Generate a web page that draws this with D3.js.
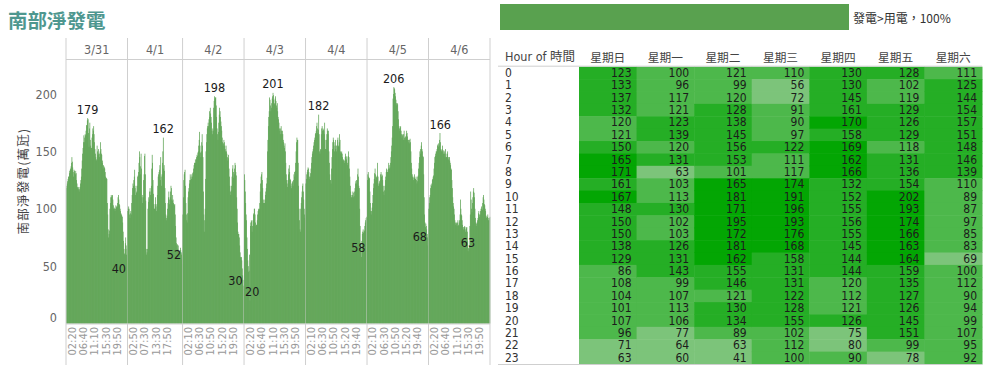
<!DOCTYPE html>
<html><head><meta charset="utf-8">
<script src="https://cdn.jsdelivr.net/npm/d3@7"></script>
<style>
body{margin:0;background:#fff;}
svg{display:block;}
text{font-family:"DejaVu Sans Condensed","DejaVu Sans","Noto Sans CJK TC",sans-serif;font-stretch:condensed;}
.cjk{font-family:"Noto Sans CJK TC",sans-serif;font-stretch:normal;}
</style></head><body>
<svg id="c" width="1004" height="376"></svg>
<script>
// ---------------- DATA ----------------
const days = ["3/31","4/1","4/2","4/3","4/4","4/5","4/6"];
// 10-minute net generation (萬瓩), 00:00 .. 23:50, null = no record
const gen0331 = [118,120,122,124,126,128, 128,131,133,134,135,137, 140,145,141,136,132,128, 134,133,131,130,133,131,
 125,122,119,118,117,119, 115,117,119,122,125,128, 135,142,148,153,158,164, 158,162,165,164,168,173,
 172,177,179,178,166,154, 170,175,160,155,153,153, 162,165,170,168,172,165, 158,152,148,145,142,143,
 155,150,147,152,148,148, 145,150,158,152,148,147, 140,142,135,138,137,136, 135,132,128,126,127,126,
 105,95,82,75,78,81, 100,105,110,112,110,111, 112,108,103,100,101,100, 98,100,103,102,101,102,
 105,110,112,108,104,103, 100,98,96,95,94,93, 88,80,72,65,61,60, 70,75,68,60,65,40];
const gen0401 = [null,null,null,98,100,102, 100,95,92,96,98,95, 105,112,118,122,120,125, 128,134,118,112,120,114,
 115,120,null,null,128,129, 132,140,150,145,130,137, 148,135,110,105,112,110, 125,130,146,148,130,107,
 65,60,62,65,null,null, null,null,null,null,100,106, 110,108,115,118,112,115, 120,135,147,140,125,113,
 null,null,null,null,104,100, 100,104,110,102,98,104, 112,120,128,130,132,134, 138,125,145,128,120,130,
 140,150,162,135,138,133, 118,105,95,90,92,94, 100,105,110,115,108,104, 110,115,120,118,108,107,
 112,108,105,104,103,104, 95,85,75,70,68,69, 65,68,62,64,63,62, 66,64,62,60,56,52];
const gen0402 = [95,110,125,130,132,134, 120,105,95,90,88,96, 110,115,118,122,125,130, 125,128,126,130,128,131,
 132,135,138,140,140,143, 140,143,145,147,146,149, 150,155,160,167,155,149, 145,150,158,165,155,145,
 115,95,80,90,100,126, 150,158,165,170,172,175, 172,178,185,180,188,183, 180,175,168,165,170,168,
 188,194,198,196,197,197, 190,180,170,165,160,167, 175,182,188,185,180,176, 172,168,162,158,155,157,
 160,158,155,152,150,155, 150,148,145,142,144,147, 135,128,120,115,112,116, 120,128,135,138,132,127,
 130,135,140,138,132,129, 110,100,88,80,78,78, 75,68,62,58,57,58, 55,48,42,38,33,30];
const gen0403 = [130,125,115,105,95,90, 75,65,55,50,45,46, 60,20,85,88,90,89, 80,85,90,95,96,100,
 100,95,88,85,86,86, 90,95,98,100,99,100, 105,115,122,128,130,132, 125,118,108,105,105,105,
 108,112,115,118,122,127, 150,160,172,180,185,197, 195,190,185,188,192,196, 198,201,199,195,192,191,
 196,198,194,190,188,192, 185,180,178,175,170,168, 165,170,172,168,165,168, 165,160,158,155,153,157,
 150,140,130,125,122,119, 125,130,135,138,132,126, 125,120,118,122,124,123, 120,125,130,132,128,133,
 140,150,158,162,160,160, 140,120,100,90,82,80, 100,105,110,115,120,122, 115,108,100,95,92,90];
const gen0404 = [122,126,130,132,134,136, 135,132,128,126,128,131, 135,140,145,148,150,152, 155,158,160,162,165,166,
 168,172,175,170,166,169, 182,165,150,148,152,151, 165,170,172,168,170,169, 168,165,175,160,152,152,
 160,165,170,168,165,168, 150,140,130,125,125,122, 135,145,152,158,162,160, 158,150,155,160,152,155,
 150,155,160,162,155,154, 158,165,160,150,148,149, 150,148,145,142,143,142, 140,142,145,148,146,143,
 145,140,138,146,150,145, 135,128,120,115,112,110, 110,112,115,114,110,111, 115,118,122,124,125,122,
 125,130,135,128,120,118, 100,85,70,65,58,72, 78,80,82,79,80,81, 85,88,90,92,93,92];
const gen0405 = [125,130,132,128,126,127, 115,105,98,95,98,101, 105,112,118,122,126,131, 135,130,125,128,127,129,
 140,128,120,122,124,122, 125,130,132,128,130,129, 125,120,115,112,116,120, 125,128,132,135,134,132,
 132,135,140,138,135,136, 140,145,150,155,162,172, 196,200,206,205,204,201, 198,195,192,190,192,191,
 185,178,172,170,168,171, 172,168,165,162,164,165, 160,165,168,162,160,163, 162,165,168,166,163,160,
 160,158,157,160,161,158, 150,140,135,130,128,127, 125,128,130,127,126,126, 128,125,122,124,128,129,
 135,140,145,150,152,148, 155,158,152,150,146,145, 130,110,95,88,84,87, 85,82,78,75,68,80];
const gen0406 = [100,105,110,112,118,121, 120,122,125,126,128,129, 135,140,145,146,148,150, 150,152,155,156,154,157,
 155,160,166,158,152,151, 150,152,155,150,148,151, 150,148,145,152,148,145, 145,148,150,145,143,145,
 145,142,140,138,135,134, 125,118,110,105,102,100, 95,90,88,86,87,88, 85,88,90,86,85,88,
 90,95,108,100,95,94, 90,86,84,82,84,84, 85,82,80,84,83,84, 80,72,63,66,65,68,
 85,95,115,108,100,97, 105,110,115,118,114,110, 100,92,88,85,87,88, 90,92,96,98,95,93,
 95,98,100,102,100,99, 105,110,112,108,104,103, 100,98,94,92,93,93, 95,92,90,90,92,93];
const dayGen = [gen0331, gen0401, gen0402, gen0403, gen0404, gen0405, gen0406];

const ticks0331 = ["02:20","06:40","11:10","15:30","19:50"];
const ticks0401 = ["02:50","07:30","13:30","17:50"];
const ticks0402 = ["02:10","06:30","10:50","15:20","19:50"];
const ticks0403 = ["02:20","06:40","11:10","15:30","19:50"];
const ticks0404 = ["02:10","06:30","10:50","15:20","19:40"];
const ticks0405 = ["02:10","06:30","10:50","15:20","19:40"];
const ticks0406 = ["02:20","06:40","11:10","15:30","19:50"];
const dayTicks = [ticks0331, ticks0401, ticks0402, ticks0403, ticks0404, ticks0405, ticks0406];
const yTicks = [0, 50, 100, 150, 200];

// Hourly average table (Hour of 時間 x weekday)
const hours = ["0","1","2","3","4","5","6","7","8","9","10","11","12","13","14","15","16","17","18","19","20","21","22","23"];
const weekdays = ["星期日","星期一","星期二","星期三","星期四","星期五","星期六"];
const hrSun = [123,133,137,132,120,121,150,165,171,161,167,148,150,150,138,129,86,108,104,101,107,96,71,63];
const hrMon = [100,96,117,121,123,139,120,131,63,103,113,130,102,103,126,131,143,99,107,113,106,77,64,60];
const hrTue = [121,99,120,128,138,145,156,153,101,165,181,171,195,172,181,162,155,146,121,130,134,89,63,41];
const hrWed = [110,56,72,91,90,97,122,111,117,174,191,196,193,176,168,158,131,131,122,128,155,102,112,100];
const hrThu = [130,130,145,161,170,158,169,162,166,132,152,155,156,155,145,144,144,120,112,121,126,75,80,90];
const hrFri = [128,102,119,129,126,129,118,131,136,154,202,193,174,166,163,164,159,135,127,126,145,151,99,78];
const hrSat = [111,125,144,154,157,151,148,146,139,110,89,87,97,85,83,69,100,112,90,94,99,107,95,92];
const hourTable = [hrSun, hrMon, hrTue, hrWed, hrThu, hrFri, hrSat];
const heatColors = ["#7cc47a","#4db84b","#25ae25","#03a603"];
const legendText = "發電>用電，100%";

// ---------------- DRAW ----------------
const svg = d3.select("#c");
const green = "#59a14f";
const slots = d3.range(144).map(j => String(Math.floor(j/6)).padStart(2,"0") + ":" + String((j%6)*10).padStart(2,"0"));

svg.append("text").attr("class","cjk").attr("x",8).attr("y",19).attr("dominant-baseline","central")
  .attr("font-size",19.5).attr("font-weight","bold").attr("fill","#4e978f").text("南部淨發電");

const y = d3.scaleLinear().domain([0,200]).range([323.5,94]);
const dayData = dayGen.map(arr => arr.map((v,j)=>({t:slots[j], v})).filter(e => e.v != null));
const total = d3.sum(dayData, d => d.length);
const paneX = d3.scaleLinear().domain([0,total]).range([66,490]);
const g = svg.append("g");

let cum = 0;
const grid = "#cfcfcf";
dayData.forEach((data,i) => {
  const x0 = paneX(cum), x1 = paneX(cum + data.length);
  cum += data.length;
  const xb = d3.scaleBand().domain(data.map(d=>d.t)).range([x0,x1]).padding(0);
  const pane = g.append("g");
  pane.selectAll("rect").data(data).join("rect")
    .attr("x", d => xb(d.t)).attr("width", xb.bandwidth()+0.3)
    .attr("y", d => y(d.v)).attr("height", d => y(0)-y(d.v)).attr("fill", green);
  // header
  g.append("text").attr("x",(x0+x1)/2).attr("y",49).attr("text-anchor","middle").attr("dominant-baseline","central")
    .attr("font-size",12.5).attr("fill","#666").text(days[i]);
  // x ticks
  const xa = d3.axisBottom(xb).tickValues(dayTicks[i]).tickSize(0).tickPadding(0);
  const ag = g.append("g").attr("transform","translate(0,327)").call(xa);
  ag.select(".domain").remove();
  ag.selectAll("text").attr("transform","rotate(-90)").attr("text-anchor","end").attr("x",0).attr("y",-0.5)
    .attr("dy","0.35em").attr("font-size",11).attr("fill","#999").attr("font-family",null);
  // max / min labels
  const mx = d3.greatest(data, d=>d.v), mn = d3.least(data, d=>d.v);
  [mx, mn].forEach(d => {
    const cx = xb(d.t) + xb.bandwidth()/2;
    const t = pane.append("text").attr("y", y(d.v)-4.5).attr("text-anchor","middle")
      .attr("font-size",12.5).attr("fill","#1a1a1a").text(d.v);
    const w = t.node().getComputedTextLength();
    const c = Math.max(x0 + w/2 + 1, Math.min(x1 - w/2 - 1.5, cx));
    t.attr("x", c);
  });
  if (i === 0) g.append("line").attr("x1",x0).attr("x2",x0).attr("y1",38).attr("y2",365).attr("stroke",grid);
  g.append("line").attr("x1",x1).attr("x2",x1).attr("y1",38).attr("y2",365).attr("stroke",grid);
});
g.append("line").attr("x1",66).attr("x2",490).attr("y1",59.5).attr("y2",59.5).attr("stroke",grid);
g.append("line").attr("x1",66).attr("x2",490).attr("y1",324).attr("y2",324).attr("stroke",grid);

// y axis
const ya = d3.axisLeft(y).tickValues(yTicks).tickSize(0).tickPadding(9);
const yg = svg.append("g").attr("transform","translate(66,0)").call(ya);
yg.select(".domain").remove();
yg.selectAll("text").attr("font-size",12.5).attr("fill","#666").attr("font-family",null)
  .attr("transform", d => d === 0 ? "translate(0,-6.5)" : null);
svg.append("text").attr("class","cjk").attr("transform","translate(22,181) rotate(-90)")
  .attr("text-anchor","middle").attr("dominant-baseline","central").attr("font-size",12.5).attr("fill","#444")
  .attr("letter-spacing",1.2).text("南部淨發電(萬瓩)");

// legend
svg.append("rect").attr("x",500).attr("y",4).attr("width",349).attr("height",26).attr("fill",green);
svg.append("text").attr("class","cjk").attr("x",853).attr("y",17.5).attr("dominant-baseline","central")
  .attr("font-size",12).attr("fill","#333").text(legendText);

// table
const xc = d3.scaleBand().domain(weekdays).range([579,982]);
const yr = d3.scaleBand().domain(hours).range([66.7,364]);
const color = d3.scaleQuantize().domain([d3.min(hourTable.flat()), d3.max(hourTable.flat())]).range(heatColors);
const tg = svg.append("g");
tg.append("text").attr("x",505).attr("y",56.5).attr("dominant-baseline","central").attr("font-size",12.5).attr("fill","#444")
  .text("Hour of 時間");
tg.selectAll("text.wd").data(weekdays).join("text").attr("class","wd cjk")
  .attr("x", d => xc(d)+xc.bandwidth()/2).attr("y",56.5).attr("text-anchor","middle").attr("dominant-baseline","central")
  .attr("font-size",11.7).attr("fill","#444").text(d=>d);
const cells = [];
hourTable.forEach((col,ci)=> col.forEach((v,hi)=> cells.push({wd:weekdays[ci], h:hours[hi], v})));
tg.selectAll("rect").data(cells).join("rect")
  .attr("x", d=>xc(d.wd)).attr("y", d=>yr(d.h)).attr("width", xc.bandwidth()+0.5).attr("height", yr.bandwidth()+0.5)
  .attr("fill", d=>color(d.v));
tg.selectAll("text.v").data(cells).join("text").attr("class","v")
  .attr("x", d=>xc(d.wd)+xc.bandwidth()-5).attr("y", d=>yr(d.h)+yr.bandwidth()/2).attr("text-anchor","end")
  .attr("dominant-baseline","central").attr("font-size",12).attr("fill","#1c1c1c").text(d=>d.v);
tg.selectAll("text.h").data(hours).join("text").attr("class","h")
  .attr("x",505).attr("y", d=>yr(d)+yr.bandwidth()/2).attr("dominant-baseline","central")
  .attr("font-size",12).attr("fill","#333").text(d=>d);
tg.append("line").attr("x1",498).attr("x2",982).attr("y1",66.2).attr("y2",66.2).attr("stroke","#cfcfcf");
tg.append("line").attr("x1",498).attr("x2",982).attr("y1",364.5).attr("y2",364.5).attr("stroke","#cfcfcf");
</script></body></html>
